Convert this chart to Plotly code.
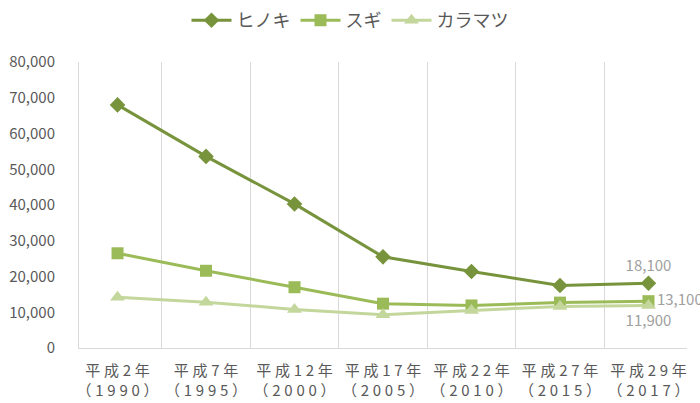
import plotly.graph_objects as go

SP = "\u2005"

def spaced(s):
    return SP.join(list(s))

years_jp = ["平成2年", "平成7年", "平成12年", "平成17年", "平成22年", "平成27年", "平成29年"]
years_ad = ["（1990）", "（1995）", "（2000）", "（2005）", "（2010）", "（2015）", "（2017）"]
hinoki = [68000, 53600, 40300, 25500, 21400, 17500, 18100]
sugi = [26500, 21600, 17000, 12400, 11900, 12700, 13100]
karamatsu = [14200, 12800, 10800, 9300, 10500, 11600, 11900]

categories = [spaced(a) + "<br>" + spaced(b) for a, b in zip(years_jp, years_ad)]

series = [
    ("ヒノキ", hinoki, "#77933C", "diamond", 12, "top center"),
    ("スギ", sugi, "#9BBB59", "square", 12, "middle right"),
    ("カラマツ", karamatsu, "#C3D69B", "triangle-up", 13, "bottom center"),
]

fig = go.Figure()
for name, vals, color, sym, size, pos in series:
    texts = [""] * (len(vals) - 1) + [f"{vals[-1]:,}"]
    fig.add_trace(go.Scatter(
        x=categories, y=vals, name=name, mode="lines+markers+text",
        line=dict(color=color, width=3),
        marker=dict(symbol=sym, size=size, color=color),
        text=texts, textposition=pos,
        textfont=dict(color="#A0A0A0", size=15),
        cliponaxis=False,
    ))

fig.update_layout(
    width=700, height=403,
    margin=dict(l=79, r=13, t=62, b=55, autoexpand=False),
    paper_bgcolor="white", plot_bgcolor="white",
    font=dict(family="Noto Sans CJK JP, Noto Sans, sans-serif", color="#595959", size=13),
    legend=dict(orientation="h", x=0.5, xanchor="center", y=0.995, yanchor="top",
                yref="container", xref="container", font=dict(size=18, color="#595959"),
                itemwidth=40, traceorder="normal"),
    showlegend=True,
)
fig.update_xaxes(
    type="category", tickson="boundaries", showgrid=True, gridcolor="#D9D9D9", gridwidth=1,
    showline=True, linecolor="#D9D9D9", linewidth=1, ticks="", ticklen=0, automargin=False,
    tickfont=dict(size=15, color="#595959"), tickangle=0, ticklabelstandoff=9,
)
fig.update_yaxes(
    range=[0, 80000], dtick=10000, tickformat=",", showgrid=False, automargin=False,
    showline=True, linecolor="#D9D9D9", linewidth=1, zeroline=False,
    tickfont=dict(size=15, color="#595959"), ticklabelstandoff=20,
)

fig.write_html("out.html", config={"displayModeBar": False},
               post_script="document.body.style.margin='0';document.body.style.overflow='hidden';")
